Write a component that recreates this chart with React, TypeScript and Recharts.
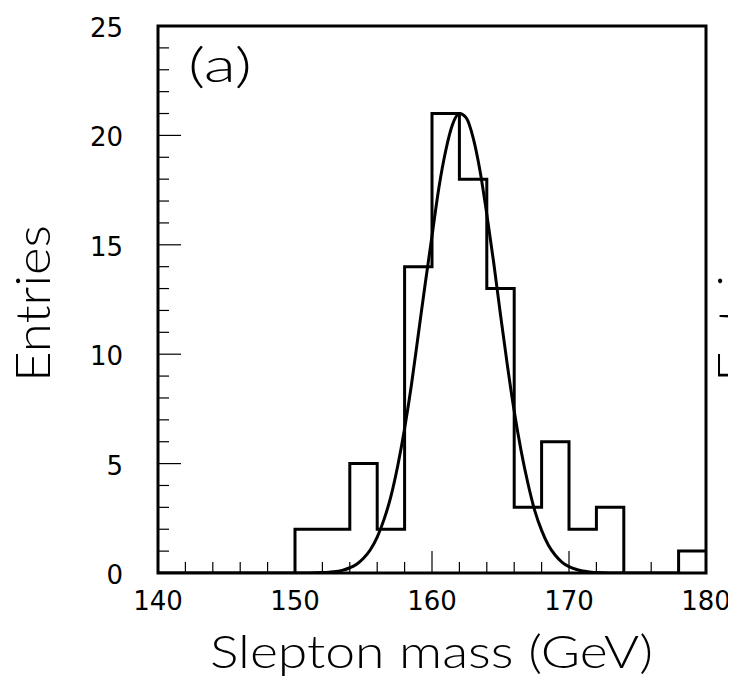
import { ComposedChart, Line, XAxis, YAxis, ReferenceArea } from 'recharts'

// histogram: lower bin edges (GeV) and entries per 2 GeV bin
const BIN_EDGES = [140, 142, 144, 146, 148, 150, 152, 154, 156, 158, 160, 162, 164, 166, 168, 170, 172, 174, 176, 178]
const BIN_COUNTS = [0, 0, 0, 0, 0, 2, 2, 5, 2, 14, 21, 18, 13, 3, 6, 2, 3, 0, 0, 1]

// fitted curve
const FIT_MASS = [
  150, 151, 152, 152.5, 153, 153.5, 154, 154.5, 155, 155.5, 156, 156.5, 157, 157.5, 158, 158.5, 159, 159.5,
  160, 160.5, 161, 161.5, 162, 162.5, 163, 163.5, 164, 164.5, 165, 165.5, 166, 166.5, 167, 167.5, 168,
  168.5, 169, 169.5, 170, 170.5, 171, 171.5, 172, 173, 174,
]
const FIT_VALUE = [
  0, 0, 0.02, 0.04, 0.07, 0.13, 0.24, 0.4, 0.67, 1.06, 1.64, 2.45, 3.5, 4.9, 6.6, 8.6, 10.9, 13.2,
  15.4, 17.6, 19.3, 20.5, 21, 20.8, 19.9, 18.4, 16.4, 14.2, 11.8, 9.5, 7.4, 5.6, 4.1, 2.85, 1.95,
  1.27, 0.81, 0.49, 0.29, 0.17, 0.09, 0.05, 0.02, 0, 0,
]

const X_TICKS = [140, 142, 144, 146, 148, 150, 152, 154, 156, 158, 160, 162, 164, 166, 168, 170, 172, 174, 176, 178, 180]
const Y_TICKS = [0, 1, 2, 3, 4, 5, 6, 7, 8, 9, 10, 11, 12, 13, 14, 15, 16, 17, 18, 19, 20, 21, 22, 23, 24, 25]

const W = 728
const H = 670
const TICK_FONT = { fontFamily: '"DejaVu Sans", sans-serif', fontSize: 26, fill: '#000' }
const TITLE_FONT = { fontFamily: 'Lato, "DejaVu Sans", sans-serif', fontWeight: 300, fill: '#000' }

const histData = BIN_EDGES.map((x, i) => ({ x, n: BIN_COUNTS[i] }))
// close the last bin at the right edge
histData.push({ x: 180, n: BIN_COUNTS[BIN_COUNTS.length - 1] })

const fitData = FIT_MASS.map((x, i) => ({ x, f: FIT_VALUE[i] }))

function XTick({ x, y, payload }: any) {
  const major = payload.value % 10 === 0
  return (
    <g>
      <line x1={x} y1={y} x2={x} y2={y - (major ? 22 : 11)} stroke="#000" strokeWidth={1.2} />
      {major && (
        <text x={x} y={y + 37} textAnchor="middle" {...TICK_FONT}>
          {payload.value}
        </text>
      )}
    </g>
  )
}

function YTick({ x, y, payload }: any) {
  const major = payload.value % 5 === 0
  return (
    <g>
      <line x1={x} y1={y} x2={x + (major ? 23 : 11)} y2={y} stroke="#000" strokeWidth={1.2} />
      {major && (
        <text x={x - 35} y={y + 11} textAnchor="end" {...TICK_FONT}>
          {payload.value}
        </text>
      )}
    </g>
  )
}

export default function App() {
  return (
    <div style={{ position: 'relative', width: W, height: H }}>
      <ComposedChart width={W} height={H} margin={{ top: 18, right: 30, left: 90, bottom: 45 }}>
        <XAxis
          type="number"
          dataKey="x"
          domain={[140, 180]}
          ticks={X_TICKS}
          interval={0}
          allowDataOverflow
          axisLine={false}
          tickLine={false}
          tickSize={0}
          tickMargin={0}
          height={60}
          tick={<XTick />}
        />
        <YAxis
          type="number"
          domain={[0, 25]}
          ticks={Y_TICKS}
          interval={0}
          allowDataOverflow
          axisLine={false}
          tickLine={false}
          tickSize={0}
          tickMargin={0}
          width={60}
          tick={<YTick />}
        />
        <Line
          data={histData}
          dataKey="n"
          type="stepAfter"
          stroke="#000"
          strokeWidth={3}
          dot={false}
          isAnimationActive={false}
        />
        <Line
          data={fitData}
          dataKey="f"
          type="monotone"
          stroke="#000"
          strokeWidth={3}
          dot={false}
          isAnimationActive={false}
        />
        <ReferenceArea x1={140} x2={180} y1={0} y2={25} fill="none" stroke="#000" strokeWidth={3} ifOverflow="visible" />
      </ComposedChart>
      {/* text overlay in page coordinates (covers the body margin too) */}
      <svg
        width={736}
        height={678}
        style={{ position: 'absolute', left: -8, top: -8, pointerEvents: 'none', overflow: 'hidden' }}
      >
        <text x={220} y={82} textAnchor="middle" fontSize={48} textLength={64} lengthAdjust="spacingAndGlyphs" {...TITLE_FONT}>
          (a)
        </text>
        <text x={431.5} y={668} textAnchor="middle" fontSize={46} textLength={443} lengthAdjust="spacingAndGlyphs" {...TITLE_FONT}>
          Slepton mass (GeV)
        </text>
        <text
          x={50}
          y={303.5}
          textAnchor="middle"
          fontSize={48}
          textLength={157}
          lengthAdjust="spacingAndGlyphs"
          transform="rotate(-90 50 303.5)"
          {...TITLE_FONT}
        >
          Entries
        </text>
        {/* neighbouring panel's axis title, cut off by the page edge */}
        <text
          x={752}
          y={303.5}
          textAnchor="middle"
          fontSize={48}
          textLength={157}
          lengthAdjust="spacingAndGlyphs"
          transform="rotate(-90 752 303.5)"
          {...TITLE_FONT}
        >
          Entries
        </text>
      </svg>
    </div>
  )
}
